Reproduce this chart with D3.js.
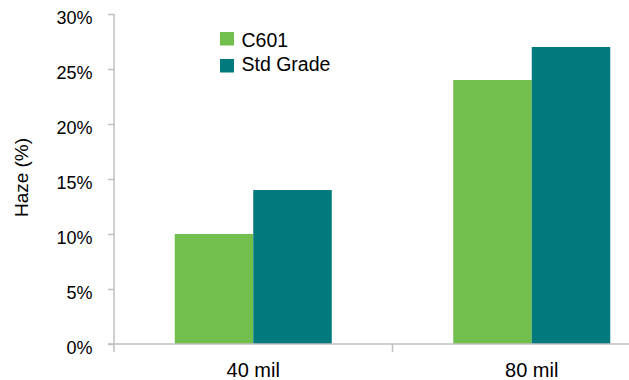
<!DOCTYPE html>
<html>
<head>
<meta charset="utf-8">
<script src="https://cdn.jsdelivr.net/npm/d3@7"></script>
<style>
  html, body { margin: 0; padding: 0; background: #fff; }
  svg { display: block; font-family: "Liberation Sans", Arial, sans-serif; }
</style>
</head>
<body>
<svg id="chart" width="629" height="380"></svg>
<script>
// Haze by sheet thickness
const categories = ["40 mil", "80 mil"];
const seriesNames = ["C601", "Std Grade"];
const c601 = [10, 24];
const stdGrade = [14, 27];
const yTicks = [0, 5, 10, 15, 20, 25, 30];
const colors = ["#72BF4E", "#007A7C"];

const svg = d3.select("#chart");
const axisColor = "#BFBFBF";
const x0 = 114, y0 = 344, yTop = 14, xRight = 671;

const x = d3.scaleBand().domain(categories).range([x0, xRight]).paddingInner(0).paddingOuter(0);
const xs = d3.scaleBand().domain(seriesNames).range([0, 157]);
const groupOffset = (x.bandwidth() - 157) / 2;
const y = d3.scaleLinear().domain([0, 30]).range([y0, yTop]);

const rows = categories.map((c, i) => ({ cat: c, vals: [c601[i], stdGrade[i]] }));

// bars
const g = svg.append("g");
rows.forEach(r => {
  r.vals.forEach((v, j) => {
    g.append("rect")
      .attr("x", x(r.cat) + groupOffset + xs(seriesNames[j]))
      .attr("y", y(v))
      .attr("width", xs.bandwidth())
      .attr("height", y0 - y(v))
      .attr("fill", colors[j]);
  });
});

// y axis
const yAxis = d3.axisLeft(y).tickValues(yTicks).tickSize(6).tickFormat(d => d + "%");
const ya = svg.append("g").attr("transform", `translate(${x0},0)`).call(yAxis);
ya.select(".domain").remove();
ya.selectAll(".tick line").attr("stroke", axisColor).attr("stroke-width", 1.5);
ya.selectAll(".tick text").attr("fill", "#000").attr("font-size", 18)
  .attr("font-family", "Liberation Sans, Arial, sans-serif")
  .attr("x", -21.5).attr("y", 3).attr("dy", "0.36em");
svg.append("line").attr("x1", x0).attr("x2", x0).attr("y1", yTop).attr("y2", y0 + 8)
  .attr("stroke", axisColor).attr("stroke-width", 1.5);

// x axis
svg.append("line").attr("x1", x0 - 6).attr("x2", 629).attr("y1", y0).attr("y2", y0)
  .attr("stroke", axisColor).attr("stroke-width", 1.5);
categories.slice(1).forEach(c => {
  svg.append("line").attr("x1", x(c)).attr("x2", x(c)).attr("y1", y0).attr("y2", y0 + 8)
    .attr("stroke", axisColor).attr("stroke-width", 1.5);
});
svg.append("g").selectAll("text").data(categories).join("text")
  .attr("x", d => x(d) + x.bandwidth() / 2)
  .attr("y", 376.5)
  .attr("text-anchor", "middle")
  .attr("font-size", 20)
  .text(d => d);

// y axis title
svg.append("text")
  .attr("transform", `translate(27.5,177.5) rotate(-90)`)
  .attr("text-anchor", "middle")
  .attr("font-size", 19)
  .text("Haze (%)");

// legend
const leg = svg.append("g");
seriesNames.forEach((s, i) => {
  leg.append("rect").attr("x", 220).attr("y", 32 + i * 27).attr("width", 14).attr("height", 13.5).attr("fill", colors[i]);
  leg.append("text").attr("x", 241.5).attr("y", 46.7 + i * 24).attr("font-size", 19.5).text(s);
});
</script>
</body>
</html>
